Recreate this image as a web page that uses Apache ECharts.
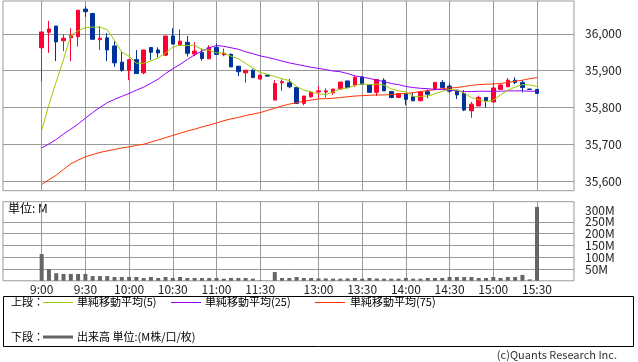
<!DOCTYPE html>
<html><head><meta charset="utf-8">
<script src="https://cdn.jsdelivr.net/npm/echarts@6/dist/echarts.min.js"></script>
<style>html,body{margin:0;padding:0;background:#fff}#c{width:638px;height:362px}</style>
</head><body><div id="c"></div>
<script>
// slot index of each x tick (5-minute bars; lunch break skipped)
const tickSlots = [0, 6, 12, 18, 24, 30, 38, 44, 50, 56, 62, 68];
const tickLabels = ['9:00','9:30','10:00','10:30','11:00','11:30','13:00','13:30','14:00','14:30','15:00','15:30'];
const priceTicks = [35600, 35700, 35800, 35900, 36000];
const volumeGridTicks = [50, 100, 150, 200, 250];
const volumeLabelTicks = [50, 100, 150, 200, 250, 300];

const openP  = [35962,36004,36021,35981,35989,35992,36067,36055,35984,35989,35967,35923,35901,35930,35894,35963,35956,35942,35994,35969,35977,35945,35949,35932,35963,35943,35944,35912,35894,35901,35877,35888,35820,35867,35867,35854,35811,35829,35842,35842,35840,35850,35872,35861,35883,35861,35841,35874,35843,35827,35838,35829,35818,35843,35850,35868,35858,35847,35838,35791,35804,35827,35815,35849,35856,35874,35868,35850,35849];
const closeP = [36005,36013,35978,35988,35995,36064,36060,35985,35988,35956,35921,35901,35930,35892,35956,35950,35948,35994,35972,35980,35947,35953,35933,35963,35944,35947,35910,35897,35901,35881,35888,35885,35865,35870,35856,35811,35831,35841,35845,35845,35850,35869,35854,35882,35863,35841,35876,35845,35827,35838,35822,35818,35843,35836,35868,35854,35844,35834,35793,35809,35827,35818,35853,35861,35874,35868,35854,35849,35838];
const lowP   = [35870,35948,35926,35953,35926,35965,36046,35985,35956,35926,35910,35897,35874,35892,35890,35929,35936,35940,35972,35969,35938,35939,35927,35932,35944,35939,35910,35885,35867,35881,35877,35885,35820,35845,35852,35811,35806,35826,35826,35827,35834,35850,35852,35856,35863,35841,35831,35845,35825,35827,35806,35818,35818,35825,35850,35854,35840,35823,35790,35772,35804,35800,35813,35849,35856,35863,35841,35849,35838];
const highP  = [36005,36035,36021,35998,36015,36064,36075,36057,36021,36002,35980,35951,35930,35956,35956,35963,35963,35994,36015,36012,35994,35977,35960,35969,35974,35960,35947,35912,35901,35904,35888,35888,35874,35876,35877,35854,35831,35845,35858,35852,35850,35869,35872,35885,35885,35861,35876,35879,35845,35838,35838,35841,35845,35849,35868,35874,35865,35847,35847,35815,35832,35827,35867,35863,35880,35882,35874,35850,35849];
const ma5  = [35738,35808,35870,35930,35996,36008,36017,36018,36018,36011,35982,35950,35939,35920,35920,35926,35935,35948,35964,35969,35968,35969,35957,35955,35948,35948,35939,35932,35920,35907,35895,35890,35884,35878,35873,35857,35847,35842,35837,35835,35842,35850,35853,35860,35864,35862,35863,35861,35850,35845,35842,35830,35830,35831,35837,35844,35849,35847,35839,35827,35821,35816,35820,35834,35847,35855,35862,35861,35857];
const ma25 = [35690,35701,35713,35728,35741,35755,35771,35786,35800,35813,35822,35830,35838,35847,35855,35866,35877,35892,35905,35917,35930,35943,35953,35962,35968,35966,35962,35958,35951,35946,35940,35936,35931,35926,35921,35917,35913,35909,35906,35903,35899,35897,35892,35886,35882,35879,35874,35870,35865,35862,35857,35854,35852,35851,35849,35849,35847,35845,35843,35843,35844,35844,35844,35844,35845,35845,35845,35844,35844];
const ma75 = [35591,35604,35616,35632,35647,35657,35666,35672,35678,35682,35686,35690,35693,35697,35700,35706,35712,35718,35724,35730,35736,35741,35747,35752,35758,35764,35769,35773,35778,35782,35786,35792,35798,35804,35809,35813,35817,35820,35823,35824,35825,35827,35829,35831,35832,35833,35834,35834,35835,35837,35838,35840,35843,35846,35848,35851,35853,35854,35857,35860,35862,35863,35864,35865,35868,35871,35874,35878,35881];
const volume = [113,50,32,29,29,29,29,20,20,20,16,16,16,16,12,16,12,16,12,16,12,12,12,12,12,9,12,12,12,9,2,1,37,12,12,16,12,12,10,10,9,9,10,12,9,12,10,9,9,9,12,9,9,12,12,12,16,16,16,16,12,12,16,12,16,16,25,6,313];

const FONT = '"Noto Sans CJK JP", "Noto Sans", sans-serif';
const GRID_C = '#999';
const X_MIN = -5.31, X_MAX = 73.08;

const candles = openP.map((o, i) => [i, o, closeP[i], lowP[i], highP[i]]);
const toXY = arr => arr.map((v, i) => [i, v]);

const chart = echarts.init(document.getElementById('c'), null, {renderer: 'canvas'});

function xAxisDef(gridIndex, showLabel) {
  return {
    type: 'value', gridIndex, min: X_MIN, max: X_MAX,
    axisLine: {show: false},
    axisTick: {show: false, customValues: tickSlots},
    splitLine: {show: true, lineStyle: {color: GRID_C, width: 1}},
    axisLabel: {
      show: showLabel, customValues: tickSlots, margin: 3,
      fontFamily: FONT, fontSize: 12, color: '#222',
      formatter: v => tickLabels[tickSlots.indexOf(Math.round(v))] || ''
    }
  };
}

chart.setOption({
  animation: false,
  backgroundColor: '#fff',
  grid: [
    {left: 3, top: 1, width: 571, height: 189.7, show: true, borderColor: GRID_C, borderWidth: 1, outerBoundsMode: 'none', containLabel: false},
    {left: 3, top: 201.7, width: 571, height: 79.1, show: true, borderColor: GRID_C, borderWidth: 1, outerBoundsMode: 'none', containLabel: false}
  ],
  xAxis: [xAxisDef(0, false), xAxisDef(1, true)],
  yAxis: [
    {
      type: 'value', gridIndex: 0, position: 'right', min: 35574, max: 36089, scale: true,
      axisLine: {show: false},
      axisTick: {show: true, length: 6, customValues: priceTicks, lineStyle: {color: GRID_C}},
      splitLine: {show: true, lineStyle: {color: GRID_C, width: 1}},
      axisLabel: {customValues: priceTicks, margin: 11, fontFamily: FONT, fontSize: 12, color: '#222',
        formatter: v => Number(v).toLocaleString('en-US')}
    },
    {
      type: 'value', gridIndex: 1, position: 'right', min: 0, max: 335,
      axisLine: {show: false},
      axisTick: {show: true, length: 5, customValues: volumeGridTicks, lineStyle: {color: GRID_C}},
      splitLine: {show: true, lineStyle: {color: GRID_C, width: 1}},
      axisLabel: {customValues: volumeLabelTicks, margin: 11, fontFamily: FONT, fontSize: 12, color: '#222',
        lineHeight: 12, formatter: v => v + 'M'}
    }
  ],
  series: [
    {
      type: 'candlestick', xAxisIndex: 0, yAxisIndex: 0, data: candles,
      barWidth: 4,
      itemStyle: {color: '#ff0033', color0: '#003399', borderColor: '#ff0033', borderColor0: '#003399', borderWidth: 1}
    },
    {type: 'line', xAxisIndex: 0, yAxisIndex: 0, data: toXY(ma75), symbol: 'none', lineStyle: {color: '#ff3300', width: 1}, z: 3},
    {type: 'line', xAxisIndex: 0, yAxisIndex: 0, data: toXY(ma25), symbol: 'none', lineStyle: {color: '#9900ff', width: 1}, z: 3},
    {type: 'line', xAxisIndex: 0, yAxisIndex: 0, data: toXY(ma5), symbol: 'none', lineStyle: {color: '#99cc00', width: 1}, z: 3},
    {
      type: 'bar', xAxisIndex: 1, yAxisIndex: 1, data: toXY(volume), barWidth: 4,
      itemStyle: {color: '#666666'}
    }
  ],
  graphic: [
    {type: 'text', left: 8, top: 202, style: {text: '単位: M', font: '12px ' + FONT, fill: '#000'}},
    {type: 'rect', shape: {x: 3.5, y: 296.5, width: 630, height: 50}, style: {fill: 'none', stroke: '#000', lineWidth: 1}},
    {type: 'text', x: 11, y: 302, style: {text: '上段：', font: '11px ' + FONT, fill: '#000', verticalAlign: 'middle'}},
    {type: 'line', shape: {x1: 43, y1: 302.5, x2: 73, y2: 302.5}, style: {stroke: '#99cc00', lineWidth: 1}},
    {type: 'text', x: 77, y: 302, style: {text: '単純移動平均(5)', font: '11px ' + FONT, fill: '#000', verticalAlign: 'middle'}},
    {type: 'line', shape: {x1: 171, y1: 302.5, x2: 201, y2: 302.5}, style: {stroke: '#9900ff', lineWidth: 1}},
    {type: 'text', x: 205, y: 302, style: {text: '単純移動平均(25)', font: '11px ' + FONT, fill: '#000', verticalAlign: 'middle'}},
    {type: 'line', shape: {x1: 315, y1: 302.5, x2: 345, y2: 302.5}, style: {stroke: '#ff3300', lineWidth: 1}},
    {type: 'text', x: 350, y: 302, style: {text: '単純移動平均(75)', font: '11px ' + FONT, fill: '#000', verticalAlign: 'middle'}},
    {type: 'text', x: 11, y: 337, style: {text: '下段：', font: '11px ' + FONT, fill: '#000', verticalAlign: 'middle'}},
    {type: 'line', shape: {x1: 43, y1: 337, x2: 73, y2: 337}, style: {stroke: '#666666', lineWidth: 3}},
    {type: 'text', x: 77, y: 337, style: {text: '出来高 単位:(M株/口/枚)', font: '11px ' + FONT, fill: '#000', verticalAlign: 'middle'}},
    {type: 'text', x: 617, y: 355, style: {text: '(c)Quants Research Inc.', font: '11px ' + FONT, fill: '#333', align: 'right', verticalAlign: 'middle'}}
  ]
});
</script></body></html>
